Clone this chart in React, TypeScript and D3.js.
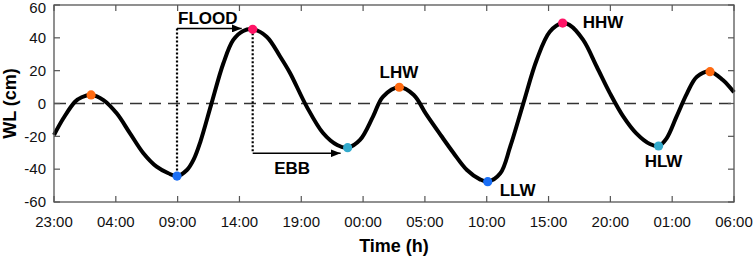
import React from "react";
import * as d3 from "d3";

const hours = [0, 0.76, 1.7, 2.24, 3.0, 4.0, 5.07, 6.15, 7.23, 8.3, 9.25, 9.95, 10.75, 11.3, 11.85, 12.7, 13.7, 14.5, 15.3, 16.07, 17.2, 18.3, 19.09, 20.44, 21.76, 22.9, 23.75, 24.75, 25.8, 26.6, 27.93, 29.1, 30.1, 31.3, 32.3, 33.4, 34.45, 35.08, 36.1, 36.9, 37.96, 39.04, 40.1, 41.14, 41.7, 42.8, 43.9, 44.97, 46.05, 47.1, 48.2, 48.9, 49.55, 50.35, 51.2, 52, 53.06, 54.1, 55];
const wl = [-19.2, -9, 1.1, 3.8, 5.2, 2.1, -6, -18.2, -30.3, -38.5, -42.5, -44.2, -40.5, -34, -23, -1, 24.5, 38.7, 44.2, 45.2, 40.7, 28.5, 18.6, -1.9, -18, -25.3, -26.9, -22.2, -8, 4.1, 9.9, 5.2, -6.5, -19.5, -30, -40.5, -46.2, -47.6, -42.5, -26.3, 0.1, 26.5, 43.7, 49, 47.8, 38.7, 22.4, 6.2, -8, -18.2, -24.7, -25.9, -21.2, -8, 6.2, 16.3, 19.4, 14.3, 6.8];

const markerHours = [3.0, 9.95, 16.07, 23.75, 27.93, 35.08, 41.14, 48.9, 53.06];
const markerWL = [5.2, -44.2, 45.2, -26.9, 9.9, -47.6, 49, -25.9, 19.4];
const markerColors = ["#ff6a10", "#1a6ef5", "#ff1466", "#33aacc", "#ff6a10", "#1a6ef5", "#ff1466", "#33aacc", "#ff6a10"];

const xTickHours = [0, 5, 10, 15, 20, 25, 30, 35, 40, 45, 50, 55];
const xTickLabels = ["23:00", "04:00", "09:00", "14:00", "19:00", "00:00", "05:00", "10:00", "15:00", "20:00", "01:00", "06:00"];
const yTicks = [-60, -40, -20, 0, 20, 40, 60];

const tideLabels = ["LHW", "LLW", "HHW", "HLW"];
const tideLabelHours = [27.9, 37.5, 44.4, 49.3];
const tideLabelWL = [15.5, -56.6, 45.8, -38.4];

const floodStartHour = 9.95;
const floodEndHour = 16.07;
const floodWL = 45.2;
const ebbStartHour = 16.07;
const ebbEndHour = 23.75;
const ebbWL = -30.3;

const W = 753, H = 258;
const L = 54, R = 734, T = 5, B = 202;

export default function App() {
  const x = d3.scaleLinear().domain([0, 55]).range([L, R]);
  const y = d3.scaleLinear().domain([-60, 60]).range([B, T]);
  const line = d3
    .line<number>()
    .x((_, i) => x(hours[i]))
    .y((d) => y(d))
    .curve(d3.curveCatmullRom.alpha(0.5));
  const font = "Liberation Sans, Arial, sans-serif";
  const axisColor = "#555";
  const fx0 = x(floodStartHour), fx1 = x(floodEndHour);
  const fy = y(floodWL) - 0.8;
  const ex0 = x(ebbStartHour), ex1 = x(ebbEndHour);
  const ey = y(ebbWL);
  return (
    <svg width={W} height={H} style={{ position: "absolute", left: 0, top: 0, background: "#fff" }} fontFamily={font}>
      <defs>
        <marker id="arr" viewBox="0 0 10 8" refX="10" refY="4" markerWidth="10" markerHeight="8" markerUnits="userSpaceOnUse" orient="auto">
          <path d="M0,0 L10,4 L0,8 Z" fill="#000" />
        </marker>
      </defs>
      <line x1={L} x2={R} y1={y(0)} y2={y(0)} stroke="#333" strokeWidth={1.3} strokeDasharray="12,7" />
      <line x1={fx0} x2={fx0} y1={fy} y2={y(-44.2)} stroke="#000" strokeWidth={2.2} strokeDasharray="2,2" />
      <line x1={fx0} x2={fx1 - 11} y1={fy} y2={fy} stroke="#000" strokeWidth={1.6} markerEnd="url(#arr)" />
      <line x1={ex0} x2={ex0} y1={y(45.2)} y2={ey} stroke="#000" strokeWidth={2.2} strokeDasharray="2,2" />
      <line x1={ex0} x2={ex1 - 7} y1={ey} y2={ey} stroke="#000" strokeWidth={1.6} markerEnd="url(#arr)" />
      <text x={fx0 + 1} y={23.5} fontSize={17} fontWeight="bold" textAnchor="start">FLOOD</text>
      <text x={(ex0 + ex1) / 2 - 8} y={173.5} fontSize={17} fontWeight="bold" textAnchor="middle">EBB</text>
      <path d={line(wl) || ""} fill="none" stroke="#000" strokeWidth={4} strokeLinejoin="round" />
      {markerHours.map((h, i) => (
        <circle key={i} cx={x(h)} cy={y(markerWL[i])} r={4.6} fill={markerColors[i]} />
      ))}
      {tideLabels.map((t, i) => (
        <text key={t} x={x(tideLabelHours[i])} y={y(tideLabelWL[i])} fontSize={17} fontWeight="bold" textAnchor="middle">{t}</text>
      ))}
      <rect x={L} y={T} width={R - L} height={B - T} fill="none" stroke={axisColor} strokeWidth={1.3} />
      {xTickHours.map((h, i) => (
        <g key={i}>
          <line x1={x(h)} x2={x(h)} y1={B} y2={B - 6} stroke={axisColor} strokeWidth={1.2} />
          <line x1={x(h)} x2={x(h)} y1={T} y2={T + 6} stroke={axisColor} strokeWidth={1.2} />
          <text x={x(h)} y={B + 25} fontSize={15} textAnchor="middle" fill="#111">{xTickLabels[i]}</text>
        </g>
      ))}
      {yTicks.map((v) => (
        <g key={v}>
          <line x1={L} x2={L + 6} y1={y(v)} y2={y(v)} stroke={axisColor} strokeWidth={1.2} />
          <line x1={R} x2={R - 6} y1={y(v)} y2={y(v)} stroke={axisColor} strokeWidth={1.2} />
          <text x={L - 8} y={Math.max(y(v) + 5.2, 12.5)} fontSize={15} textAnchor="end" fill="#111">{v}</text>
        </g>
      ))}
      <text transform={`translate(16,${(T + B) / 2}) rotate(-90)`} fontSize={18} fontWeight="bold" textAnchor="middle">WL (cm)</text>
      <text x={(L + R) / 2} y={252} fontSize={18} fontWeight="bold" textAnchor="middle">Time (h)</text>
    </svg>
  );
}
